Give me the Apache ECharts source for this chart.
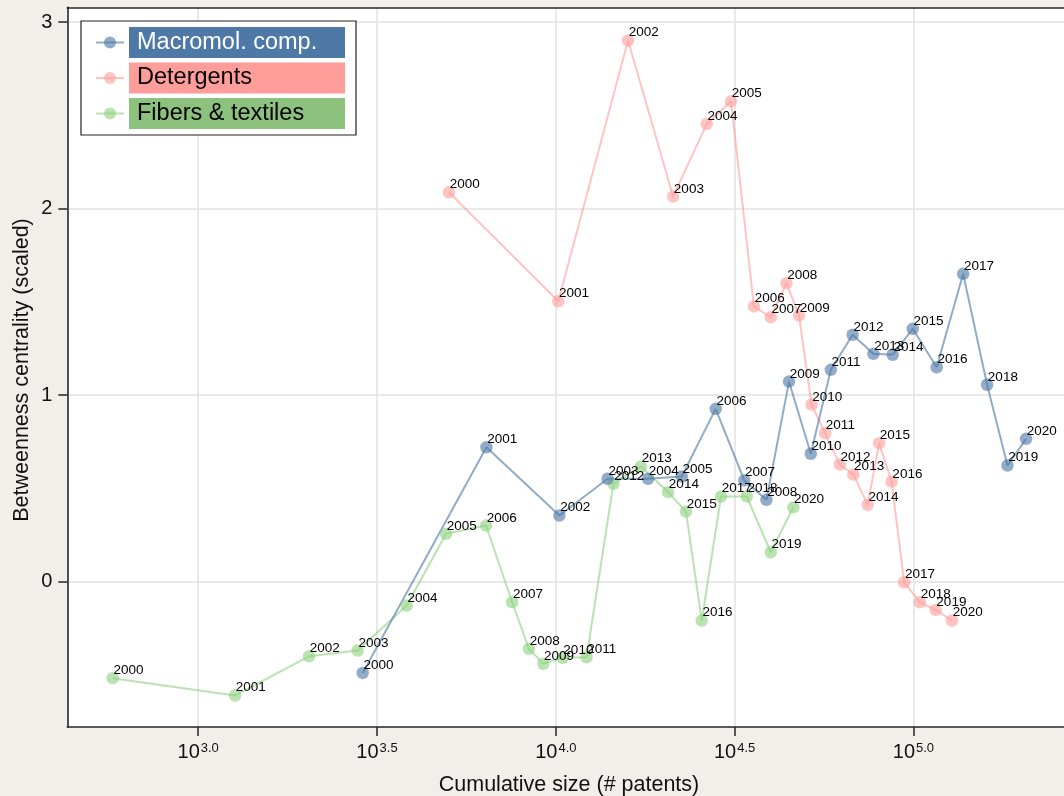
<!DOCTYPE html>
<html>
<head>
<meta charset="utf-8">
<script src="https://cdn.jsdelivr.net/npm/echarts@6/dist/echarts.min.js"></script>
<style>
html,body{margin:0;padding:0;background:#f2efea;}
#chart{width:1064px;height:796px;}
</style>
</head>
<body>
<div id="chart"></div>
<script>
// Years shared by all series
const years = [2000,2001,2002,2003,2004,2005,2006,2007,2008,2009,2010,2011,2012,2013,2014,2015,2016,2017,2018,2019,2020];

// log10(cumulative size) and scaled betweenness centrality per series
const macroLogSize = [3.460,3.806,4.010,4.145,4.258,4.352,4.447,4.527,4.589,4.652,4.713,4.769,4.830,4.888,4.942,4.998,5.065,5.139,5.206,5.263,5.315];
const macroBetween = [-0.490,0.720,0.354,0.551,0.551,0.563,0.926,0.542,0.438,1.072,0.685,1.135,1.323,1.221,1.216,1.355,1.149,1.650,1.055,0.622,0.765];

const detLogSize = [3.701,4.007,4.202,4.328,4.422,4.490,4.554,4.601,4.645,4.680,4.715,4.753,4.794,4.832,4.872,4.904,4.939,4.974,5.018,5.062,5.108];
const detBetween = [2.087,1.503,2.901,2.064,2.454,2.575,1.475,1.417,1.600,1.426,0.949,0.795,0.627,0.574,0.411,0.742,0.536,-0.004,-0.111,-0.152,-0.209];

const fibLogSize = [2.761,3.103,3.310,3.446,3.583,3.693,3.805,3.878,3.925,3.965,4.019,4.086,4.161,4.238,4.314,4.364,4.408,4.462,4.534,4.601,4.664];
const fibBetween = [-0.518,-0.611,-0.401,-0.370,-0.129,0.256,0.300,-0.111,-0.361,-0.441,-0.409,-0.406,0.524,0.617,0.479,0.375,-0.209,0.456,0.456,0.157,0.398];

const xTicks = [3.0,3.5,4.0,4.5,5.0];
const yTicks = [0,1,2,3];

const seriesNames = ['Macromol. comp.','Detergents','Fibers & textiles'];

const FONT = '"Liberation Sans", Arial, Helvetica, sans-serif';

function pts(xs, ys){ return xs.map((x,i)=>[x, ys[i], years[i]]); }

function mkSeries(name, color, data){
  return {
    name: name,
    type: 'line',
    data: data,
    symbol: 'circle',
    symbolSize: 12.5,
    showAllSymbol: true,
    itemStyle: {color: color},
    lineStyle: {color: color, width: 2},
    emphasis: {disabled: true},
    animation: false,
    label: {
      show: true,
      formatter: p => String(p.data[2]),
      position: [7, -1.5],
      align: 'left',
      verticalAlign: 'middle',
      fontSize: 13.5,
      fontFamily: FONT,
      color: '#000000'
    }
  };
}

const AXIS_COLOR = '#262626';

const chart = echarts.init(document.getElementById('chart'));
chart.setOption({
  backgroundColor: '#f2efea',
  animation: false,
  grid: {
    left: 67.3, top: 7.3, bottom: 69, right: 0,
    show: true, backgroundColor: '#ffffff', borderWidth: 0
  },
  xAxis: [{
    type: 'value',
    min: 2.634, max: 5.421,
    axisLine: {show: true, onZero: false, lineStyle: {color: AXIS_COLOR, width: 1.6}},
    axisTick: {show: true, customValues: xTicks, length: 9, lineStyle: {color: AXIS_COLOR, width: 1.5}},
    splitLine: {show: true, lineStyle: {color: '#e2e2e2', width: 1.5}},
    axisLabel: {
      customValues: xTicks,
      margin: 14,
      formatter: v => '{b|10}{s|' + v.toFixed(1) + '}',
      rich: {
        b: {fontSize: 20, fontFamily: FONT, color: '#111', lineHeight: 22},
        s: {fontSize: 13, fontFamily: FONT, color: '#111', lineHeight: 22, padding: [0,0,8,1]}
      }
    }
  }, {
    type: 'value',
    position: 'top',
    min: 2.634, max: 5.421,
    axisLine: {show: true, onZero: false, lineStyle: {color: AXIS_COLOR, width: 1.6}},
    axisTick: {show: false},
    axisLabel: {show: false},
    splitLine: {show: false}
  }],
  yAxis: {
    type: 'value',
    min: -0.780, max: 3.079,
    axisLine: {show: true, onZero: false, lineStyle: {color: AXIS_COLOR, width: 1.6}},
    axisTick: {show: true, customValues: yTicks, length: 9, lineStyle: {color: AXIS_COLOR, width: 1.5}},
    splitLine: {show: true, lineStyle: {color: '#e2e2e2', width: 1.5}},
    axisLabel: {
      customValues: yTicks,
      margin: 15,
      fontSize: 20, fontFamily: FONT, color: '#111'
    }
  },
  legend: {
    orient: 'vertical',
    left: 81, top: 21,
    padding: [6, 11, 6, 14],
    itemGap: 4.5,
    itemWidth: 28, itemHeight: 15,
    backgroundColor: '#ffffff',
    borderColor: '#222', borderWidth: 1.2, borderRadius: 0,
    selectedMode: false,
    textStyle: {fontSize: 23.5, fontFamily: FONT, padding: [3,8,2,8], width: 200, lineHeight: 26},
    data: [
      {name: seriesNames[0], textStyle: {backgroundColor: '#4e79a7', color: '#ffffff'}},
      {name: seriesNames[1], textStyle: {backgroundColor: '#ff9d9a', color: '#000000'}},
      {name: seriesNames[2], textStyle: {backgroundColor: '#8cc17e', color: '#000000'}}
    ]
  },
  graphic: [
    {type: 'text', x: 569, y: 785, silent: true,
     style: {text: 'Cumulative size (# patents)', fontSize: 21.5, fontFamily: FONT, fill: '#111', align: 'center', verticalAlign: 'middle', textAlign: 'center', textVerticalAlign: 'middle'}},
    {type: 'text', x: 22, y: 370, rotation: Math.PI/2, silent: true,
     style: {text: 'Betweenness centrality (scaled)', fontSize: 21.5, fontFamily: FONT, fill: '#111', align: 'center', verticalAlign: 'middle', textAlign: 'center', textVerticalAlign: 'middle'}}
  ],
  series: [
    mkSeries(seriesNames[2], 'rgba(140,209,125,0.6)', pts(fibLogSize, fibBetween)),
    mkSeries(seriesNames[1], 'rgba(255,157,154,0.6)', pts(detLogSize, detBetween)),
    mkSeries(seriesNames[0], 'rgba(78,121,167,0.62)', pts(macroLogSize, macroBetween))
  ]
});
</script>
</body>
</html>
